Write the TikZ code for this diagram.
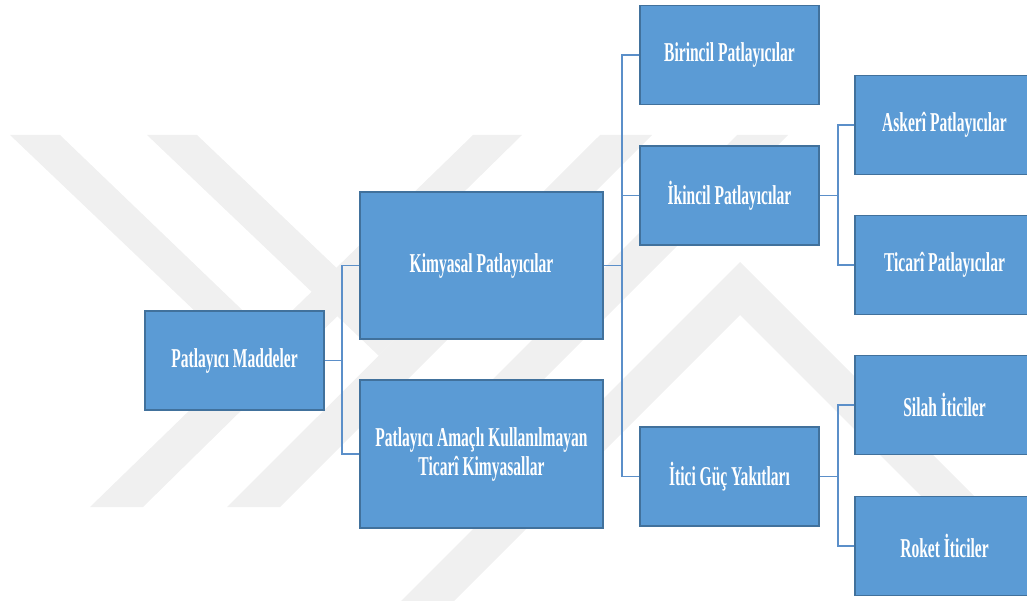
\documentclass[tikz,border=0pt]{standalone}
\usepackage{fontspec}
\setmainfont{Liberation Serif}[FakeStretch=0.57]
\usepackage{tikz}
\definecolor{ptBlue}{HTML}{5B9BD5}
\definecolor{ptEdge}{HTML}{41719C}
\definecolor{ptLine}{HTML}{5B8FC9}
\definecolor{ptMark}{HTML}{F0F0F0}
\tikzset{
  ptbox/.style={rectangle,draw=ptEdge,line width=0.9pt,fill=ptBlue,
                text=white,minimum width=3.58cm,minimum height=1.98cm,
                inner sep=2pt,align=center,
                font=\fontsize{15.5}{16.5}\selectfont\bfseries},
  ptwide/.style={ptbox,minimum width=4.86cm,minimum height=2.95cm},
  ptline/.style={draw=ptLine,line width=1pt},
  ptmark/.style={fill=ptMark}
}

\begin{document}
\begin{tikzpicture}[x=0.02cm,y=-0.02cm]
  \useasboundingbox (0,0) rectangle (1027,601);

  % watermark in the background
  \fill[ptmark] (90,507) -- (143,507) -- (522,135) -- (473,135) -- cycle;
  \fill[ptmark] (227,507) -- (280,507) -- (652,135) -- (600,135) -- cycle;
  \fill[ptmark] (10,135) -- (60,135) -- (266.8,333.6) -- (243.8,357.7) -- cycle;
  \fill[ptmark] (147,135) -- (197,135) -- (403.1,331.3) -- (378.7,355.7) -- cycle;
  \fill[ptmark] (737,135) -- (788,135) -- (416,507) -- (365,507) -- cycle;
  \fill[ptmark] (401,601) -- (740,262) -- (978,500) -- (925,500)
    -- (740,315) -- (454,601) -- cycle;

  % boxes
  \node[ptbox] (pm) at (234.5,360.5) {Patlayıcı Maddeler};
  \node[ptwide] (kp) at (481.5,265.5) {Kimyasal Patlayıcılar};
  \node[ptwide] (pa) at (481.5,454) {Patlayıcı Amaçlı Kullanılmayan\\Ticarî Kimyasallar};
  \node[ptbox] (bp) at (729.5,55) {Birincil Patlayıcılar};
  \node[ptbox] (ip) at (729.5,195.5) {İkincil Patlayıcılar};
  \node[ptbox] (ig) at (729.5,476.5) {İtici Güç Yakıtları};
  \node[ptbox] (ap) at (944.5,125) {Askerî Patlayıcılar};
  \node[ptbox] (tp) at (944.5,265) {Ticarî Patlayıcılar};
  \node[ptbox] (si) at (944.5,405) {Silah İticiler};
  \node[ptbox] (rk) at (944.5,546) {Roket İticiler};

  % elbow connectors
  \coordinate (j1) at (342,360.5);
  \coordinate (j2) at (622,265.5);
  \coordinate (j3) at (838,195.5);
  \coordinate (j4) at (838,476.5);
  \draw[ptline] (pm.east) -- (j1) |- (kp.west);
  \draw[ptline] (j1) |- (pa.west);
  \draw[ptline] (kp.east) -- (j2) |- (bp.west);
  \draw[ptline] (j2) |- (ip.west);
  \draw[ptline] (j2) |- (ig.west);
  \draw[ptline] (ip.east) -- (j3) |- (ap.west);
  \draw[ptline] (j3) |- (tp.west);
  \draw[ptline] (ig.east) -- (j4) |- (si.west);
  \draw[ptline] (j4) |- (rk.west);
\end{tikzpicture}
\end{document}
